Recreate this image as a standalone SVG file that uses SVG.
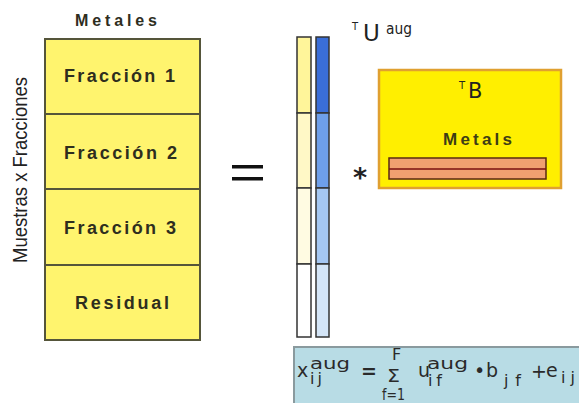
<svg xmlns="http://www.w3.org/2000/svg" width="579" height="403" viewBox="0 0 579 403">
<style>
.lbl{font-family:"Liberation Sans",Arial,sans-serif;font-weight:bold;font-size:18px;fill:#2e2e1e}
.cell{fill:#FFF46E;stroke:#55553a;stroke-width:2}
.col{stroke:#333;stroke-width:1.5}
.eq{font-family:"DejaVu Sans",Verdana,sans-serif;font-size:19px;fill:#2a2a2a}
.sub{font-size:16px}
</style>
<rect width="579" height="403" fill="#ffffff"/>
<g id="left-matrix">
  <text class="lbl" x="75" y="26" style="font-size:16px" textLength="82" lengthAdjust="spacing">Metales</text>
  <g id="fraccion1"><rect class="cell" x="45" y="39" width="155" height="75"/><text class="lbl" x="64" y="82" textLength="111" lengthAdjust="spacing">Fracción 1</text></g>
  <g id="fraccion2"><rect class="cell" x="45" y="114" width="155" height="75"/><text class="lbl" x="64" y="159" textLength="113" lengthAdjust="spacing">Fracción 2</text></g>
  <g id="fraccion3"><rect class="cell" x="45" y="189" width="155" height="76"/><text class="lbl" x="64" y="234" textLength="112" lengthAdjust="spacing">Fracción 3</text></g>
  <g id="residual"><rect class="cell" x="45" y="265" width="155" height="75"/><text class="lbl" x="75" y="309" textLength="94" lengthAdjust="spacing">Residual</text></g>
  <text x="0" y="0" transform="translate(27,263) rotate(-90)" font-family="'Liberation Sans',Arial,sans-serif" font-size="21" fill="#222" textLength="186" lengthAdjust="spacingAndGlyphs">Muestras x Fracciones</text>
</g>
<g id="equals">
  <rect x="232" y="165" width="31" height="3.5" fill="#111"/>
  <rect x="232" y="177" width="31" height="3.5" fill="#111"/>
</g>
<g id="U-matrix">
  <rect class="col" x="297" y="37" width="14" height="76" fill="#FFF59A"/>
  <rect class="col" x="297" y="113" width="14" height="75" fill="#FFF8C6"/>
  <rect class="col" x="297" y="188" width="14" height="76" fill="#FFFBE2"/>
  <rect class="col" x="297" y="264" width="14" height="73" fill="#FFFFFF"/>
  <rect class="col" x="316" y="37" width="13" height="76" fill="#3A6ED8"/>
  <rect class="col" x="316" y="113" width="13" height="75" fill="#6E9FEA"/>
  <rect class="col" x="316" y="188" width="13" height="76" fill="#A5C7F2"/>
  <rect class="col" x="316" y="264" width="13" height="73" fill="#D4E5F7"/>
  <text x="352" y="30" font-family="'DejaVu Sans',Verdana,sans-serif" font-size="10" fill="#222">T</text>
  <text x="363" y="41" font-family="'DejaVu Sans',Verdana,sans-serif" font-size="23" fill="#222">U</text>
  <text x="386" y="34" font-family="'DejaVu Sans',Verdana,sans-serif" font-size="15" fill="#222" textLength="26" lengthAdjust="spacingAndGlyphs">aug</text>
</g>
<text x="353" y="187" font-family="'DejaVu Sans',Verdana,sans-serif" font-weight="bold" font-size="27" fill="#222">*</text>
<g id="B-matrix">
  <rect x="379" y="70" width="182" height="118" fill="#FFEF00" stroke="#E0A030" stroke-width="2.5"/>
  <text x="459" y="89" font-family="'DejaVu Sans',Verdana,sans-serif" font-size="10" fill="#222">T</text>
  <text x="468" y="98" font-family="'DejaVu Sans',Verdana,sans-serif" font-size="21" fill="#222">B</text>
  <text class="lbl" x="443" y="145" textLength="69" lengthAdjust="spacing" style="font-size:17px;fill:#3d3d15">Metals</text>
  <rect x="389" y="158" width="157" height="21" fill="#F0A070" stroke="#5a2a10" stroke-width="1.5"/>
  <line x1="389" y1="169" x2="546" y2="169" stroke="#7a1010" stroke-width="1.5"/>
</g>
<g id="formula">
  <rect x="294" y="347" width="290" height="60" fill="#B8DCE5" stroke="#8A9A9E" stroke-width="2"/>
  <text class="eq" x="297" y="377">x</text>
  <text class="eq sub" x="310" y="369" textLength="40" lengthAdjust="spacingAndGlyphs">aug</text>
  <text class="eq sub" x="310" y="384" textLength="12" lengthAdjust="spacing">ij</text>
  <text class="eq" x="361" y="378" font-weight="bold">=</text>
  <text class="eq" x="392" y="360" style="font-size:16px">F</text>
  <text class="eq" x="387" y="382" style="font-size:18px" textLength="13" lengthAdjust="spacingAndGlyphs">Σ</text>
  <text class="eq" x="382" y="400" style="font-size:15px" textLength="23" lengthAdjust="spacingAndGlyphs">f=1</text>
  <text class="eq" x="418" y="377">u</text>
  <text class="eq sub" x="427" y="369" textLength="41" lengthAdjust="spacingAndGlyphs">aug</text>
  <text class="eq sub" x="428" y="386" textLength="14" lengthAdjust="spacing">if</text>
  <text class="eq" x="474" y="377">•</text>
  <text class="eq" x="486" y="377">b</text>
  <text class="eq sub" x="504" y="386" textLength="17" lengthAdjust="spacing">jf</text>
  <text class="eq" x="531" y="378">+</text>
  <text class="eq" x="546" y="377">e</text>
  <text class="eq sub" x="561" y="383" textLength="14" lengthAdjust="spacing">ij</text>
</g>
</svg>
